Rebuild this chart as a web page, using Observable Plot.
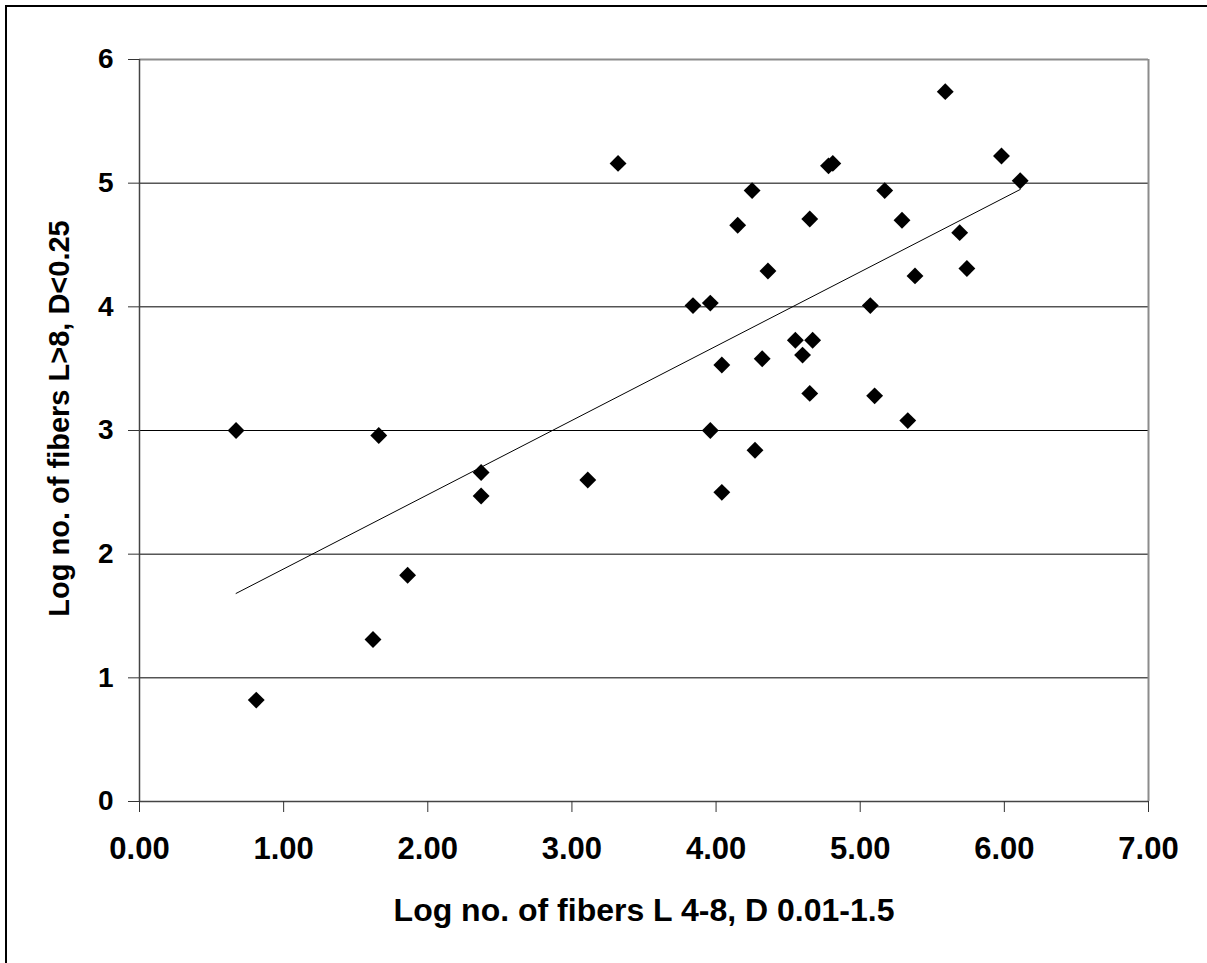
<!DOCTYPE html>
<html>
<head>
<meta charset="utf-8">
<script src="https://cdn.jsdelivr.net/npm/d3@7"></script>
<script src="https://cdn.jsdelivr.net/npm/@observablehq/plot@0.6"></script>
<style>
  html, body { margin: 0; padding: 0; background: #fff; }
  #wrap { position: relative; width: 1207px; height: 963px; overflow: hidden; }
  #frame { position: absolute; left: 5px; top: 5px; right: -10px; bottom: -10px;
           border-left: 2.5px solid #000; border-top: 2.5px solid #000; pointer-events: none; }
</style>
</head>
<body>
<div id="wrap"><div id="frame"></div></div>
<script>
// Log no. of fibers L 4-8, D 0.01-1.5
const xValues = [0.67, 0.81, 1.66, 1.62, 1.86, 2.37, 2.37, 3.11, 3.32, 3.84, 3.96, 3.96, 4.04, 4.04,
                 4.15, 4.25, 4.27, 4.32, 4.36, 4.55, 4.60, 4.65, 4.65, 4.67, 4.78, 4.81, 5.07, 5.10,
                 5.17, 5.29, 5.33, 5.38, 5.59, 5.69, 5.74, 5.98, 6.11];
// Log no. of fibers L>8, D<0.25
const yValues = [3.00, 0.82, 2.96, 1.31, 1.83, 2.66, 2.47, 2.60, 5.16, 4.01, 4.03, 3.00, 3.53, 2.50,
                 4.66, 4.94, 2.84, 3.58, 4.29, 3.73, 3.61, 4.71, 3.30, 3.73, 5.14, 5.16, 4.01, 3.28,
                 4.94, 4.70, 3.08, 4.25, 5.74, 4.60, 4.31, 5.22, 5.02];
const xTicks = [0, 1, 2, 3, 4, 5, 6, 7];
const yTicks = [0, 1, 2, 3, 4, 5, 6];
const yGrid = [1, 2, 3, 4, 5];
const xLabel = "Log no. of fibers L 4-8, D 0.01-1.5";
const yLabel = "Log no. of fibers L>8, D<0.25";

const data = xValues.map((x, i) => ({x, y: yValues[i]}));

const chart = Plot.plot({
  width: 1207,
  height: 963,
  marginLeft: 139,
  marginRight: 59,
  marginTop: 59,
  marginBottom: 162,
  x: {domain: [0, 7]},
  y: {domain: [0, 6]},
  style: {
    fontFamily: "'Liberation Sans', Arial, Helvetica, sans-serif",
    fontWeight: "bold",
    background: "transparent",
    color: "#000"
  },
  marks: [
    Plot.gridY(yGrid, {stroke: "#000", strokeOpacity: 1, strokeWidth: 1}),
    Plot.ruleY([6], {stroke: "#8c8c8c", strokeWidth: 2}),
    Plot.ruleX([7], {stroke: "#8c8c8c", strokeWidth: 2}),
    Plot.ruleX([0], {stroke: "#444", strokeWidth: 1.5}),
    Plot.ruleY([0], {stroke: "#444", strokeWidth: 1.5}),
    Plot.axisY(yTicks, {tickSize: 11, tickPadding: 15, fontSize: 28, label: null, stroke: "#333",
                        tickFormat: d3.format("d")}),
    Plot.axisX(xTicks, {tickSize: 11, tickPadding: 24, fontSize: 31, label: null, stroke: "#333",
                        tickFormat: d3.format(".2f")}),
    Plot.linearRegressionY(data, {x: "x", y: "y", ci: 0, stroke: "#000", strokeWidth: 1}),
    Plot.dot(data, {x: "x", y: "y", symbol: "diamond2", r: 7.6, fill: "#000", stroke: "none"}),
    Plot.text([xLabel], {frameAnchor: "bottom", dy: 119, lineAnchor: "bottom", textAnchor: "middle",
                         fontSize: 32, fontWeight: "bold", fill: "#000"}),
    Plot.text([yLabel], {frameAnchor: "left", dx: -71, dy: -12, rotate: -90, lineAnchor: "bottom",
                         textAnchor: "middle", fontSize: 29, fontWeight: "bold", fill: "#000"})
  ]
});
document.getElementById("wrap").insertBefore(chart, document.getElementById("frame"));
</script>
</body>
</html>
